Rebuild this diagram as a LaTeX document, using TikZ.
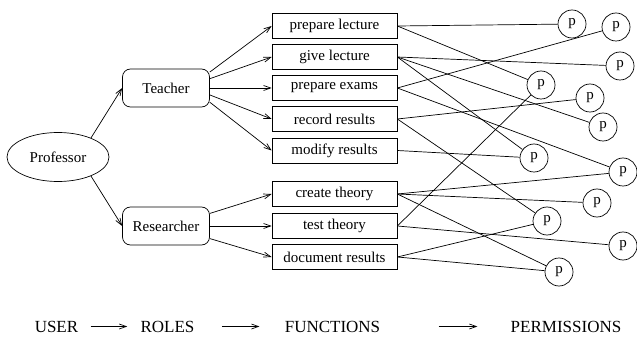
\documentclass[tikz,border=0pt]{standalone}
\usepackage{fontspec}
\setmainfont{Liberation Serif}
\usetikzlibrary{arrows.meta,shapes.geometric}
\begin{document}
\begin{tikzpicture}[x=1pt,y=-1pt,line width=0.7pt,
  every node/.style={font=\fontsize{15}{18}\selectfont},
  arr/.style={-{Straight Barb[length=7pt,width=5pt]}},
  userell/.style={draw,ellipse,minimum width=102pt,minimum height=49pt,inner sep=0pt},
  rolebox/.style={draw,rounded corners=8pt,minimum width=87pt,minimum height=38pt,inner sep=0pt},
  funcbox/.style={draw,minimum width=125pt,minimum height=25pt,inner sep=0pt},
  perm/.style={draw,circle,minimum size=28pt,inner sep=0pt},
  caption/.style={font=\fontsize{17}{20}\selectfont,inner sep=0pt}]
\useasboundingbox (0,0) rectangle (637,339);

% user and roles
\node[userell] (prof) at (58,157) {Professor};
\node[rolebox] (teacher) at (166,88) {Teacher};
\node[rolebox] (research) at (166,226) {Researcher};

% functions
\node[funcbox] (pl) at (334.5,26) {prepare lecture};
\node[funcbox] (gl) at (334.5,57) {give lecture};
\node[funcbox] (pe) at (334.5,88) {prepare exams};
\node[funcbox] (rr) at (334.5,119) {record results};
\node[funcbox] (mr) at (334.5,150.5) {modify results};
\node[funcbox] (ct) at (334.5,194) {create theory};
\node[funcbox] (tt) at (334.5,226) {test theory};
\node[funcbox] (dr) at (334.5,257) {document results};

% permissions
\node[perm] (p1) at (572,24) {p};
\node[perm] (p2) at (616,27) {p};
\node[perm] (p3) at (620,66) {p};
\node[perm] (p4) at (541,85) {p};
\node[perm] (p5) at (590,98) {p};
\node[perm] (p6) at (603,127) {p};
\node[perm] (p7) at (534,158) {p};
\node[perm] (p8) at (623,172) {p};
\node[perm] (p9) at (597,203) {p};
\node[perm] (p10) at (547,221) {p};
\node[perm] (p11) at (623,246) {p};
\node[perm] (p12) at (559,272) {p};

% user to roles
\draw[arr] (prof.30) -- (teacher.west);
\draw[arr] (prof.-30) -- (research.west);

% roles to functions
\draw[arr] (teacher.20) -- (pl.west);
\draw[arr] (teacher.12) -- (gl.west);
\draw[arr] (teacher.0) -- (pe.west);
\draw[arr] (teacher.-9) -- (rr.west);
\draw[arr] (teacher.-18) -- (mr.west);
\draw[arr] (research.16) -- (ct.west);
\draw[arr] (research.0) -- (tt.west);
\draw[arr] (research.-16) -- (dr.west);

% functions to permissions
\draw (pl.east) -- (p1);
\draw (pl.east) -- (p4);
\draw (gl.east) -- (p3);
\draw (gl.east) -- (p6);
\draw (gl.east) -- (p7);
\draw (pe.east) -- (p2);
\draw (pe.east) -- (p8);
\draw (rr.east) -- (p5);
\draw (rr.east) -- (p10);
\draw (mr.east) -- (p7);
\draw (ct.east) -- (p8);
\draw (ct.east) -- (p9);
\draw (ct.east) -- (p12);
\draw (tt.east) -- (p4);
\draw (tt.east) -- (p11);
\draw (dr.east) -- (p10);
\draw (dr.east) -- (p12);

% legend
\node[caption] (cu) at (56.5,326.5) {USER};
\node[caption] (cr) at (167.5,326.5) {ROLES};
\node[caption] (cf) at (332.5,326.5) {FUNCTIONS};
\node[caption] (cp) at (566,326.5) {PERMISSIONS};
\draw[arr,shorten <=12pt,shorten >=13pt] (cu.east) -- (cr.west);
\draw[arr,shorten <=27pt,shorten >=25pt] (cr.east) -- (cf.west);
\draw[arr,shorten <=58pt,shorten >=33pt] (cf.east) -- (cp.west);
\end{tikzpicture}
\end{document}
